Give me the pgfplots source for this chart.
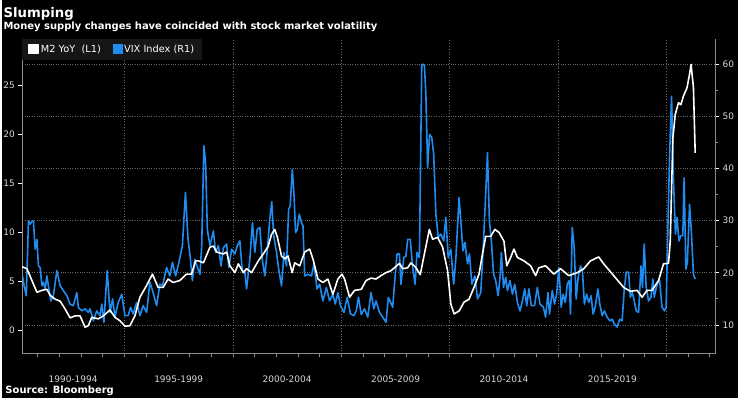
\documentclass[border=0pt]{standalone}
\usepackage{fontspec}
\setmainfont{DejaVu Sans}
\usepackage{pgfplots}
\pgfplotsset{compat=1.18}
\definecolor{vixblue}{RGB}{30,140,240}
\definecolor{axgray}{RGB}{140,140,140}
\definecolor{gridgray}{RGB}{105,105,105}
\definecolor{lblgray}{RGB}{215,215,215}
\definecolor{legbg}{RGB}{22,22,22}
\begin{document}
\begin{tikzpicture}
\fill[black] (0pt,0pt) rectangle (738pt,399pt);
\node[anchor=base west, text=white, inner sep=0, font=\bfseries\fontsize{13.3}{15}\selectfont] at (1pt,381.5pt) {Slumping};
\node[anchor=base west, text=white, inner sep=0, font=\bfseries\fontsize{10}{12}\selectfont] at (1pt,369pt) {Money supply changes have coincided with stock market volatility};
\node[anchor=base west, text=white, inner sep=0, font=\bfseries\fontsize{10}{12}\selectfont] at (3pt,4pt) {Source: Bloomberg};
% ---------- right axis: VIX ----------
\begin{axis}[
  at={(20pt,44pt)}, anchor=south west, scale only axis,
  width=695pt, height=316pt,
  xmin=1990.283, xmax=2022.237, ymin=4.46, ymax=64.8,
  axis x line*=bottom, axis y line*=right,
  axis line style={axgray,-,line width=0.8pt},
  /pgf/number format/assume math mode=true,
  xtick={1992.63,1997.5,2002.5,2007.5,2012.5,2017.5},
  xticklabels={1990-1994,1995-1999,2000-2004,2005-2009,2010-2014,2015-2019},
  every major x tick/.append style={draw=none},
  minor xtick={1991,1992,...,2022},
  every minor x tick/.append style={axgray, line width=0.8pt},
  xticklabel style={text=lblgray, font=\fontsize{9}{10}\selectfont, yshift=-14pt},
  ytick={10,20,...,60},
  minor ytick={15,25,...,55},
  every major y tick/.append style={white, line width=0.8pt},
  every minor y tick/.append style={axgray, line width=0.8pt},
  tick align=outside, major tick length=4pt, minor tick length=3pt,
  yticklabel style={text=lblgray, font=\fontsize{9}{10}\selectfont},
  ymajorgrids, major grid style={gridgray, dotted, line width=0.8pt},
  clip=true,
]
\pgfplotsinvokeforeach{1995,2000,2005,2010,2015,2020}{
  \draw[gridgray, dotted, line width=0.8pt] (axis cs:#1,4.46) -- (axis cs:#1,64.8);
  \draw[axgray, line width=0.8pt] (axis cs:#1,4.46) -- ++(0pt,-28pt);
}
\addplot[vixblue, line width=1.6pt, line join=round] table {
1990.28 19.7
1990.37 17.5
1990.47 15.6
1990.57 29.9
1990.65 29.3
1990.73 29.9
1990.80 29.9
1990.88 24.5
1990.96 26.4
1991.03 21.3
1991.11 21.0
1991.19 17.5
1991.26 18.2
1991.34 16.9
1991.42 19.4
1991.49 17.5
1991.60 14.6
1991.72 15.6
1991.88 20.4
1992.03 17.5
1992.18 16.6
1992.34 15.6
1992.49 14.0
1992.64 13.7
1992.80 16.2
1992.87 13.4
1993.03 12.7
1993.18 13.1
1993.33 12.4
1993.41 13.1
1993.56 10.8
1993.72 12.7
1993.87 11.8
1993.95 14.0
1994.05 10.5
1994.20 20.4
1994.33 12.4
1994.45 15.0
1994.56 11.5
1994.71 14.3
1994.87 15.9
1995.02 11.8
1995.17 11.8
1995.28 13.4
1995.40 12.1
1995.56 14.3
1995.71 11.8
1995.86 13.7
1996.02 12.4
1996.17 18.2
1996.32 16.2
1996.48 13.7
1996.63 17.8
1996.75 17.5
1996.94 21.0
1997.09 19.4
1997.21 22.0
1997.36 19.4
1997.51 22.0
1997.67 25.2
1997.81 35.4
1997.93 26.4
1998.04 22.6
1998.13 18.5
1998.24 22.6
1998.34 21.3
1998.48 19.7
1998.56 25.2
1998.66 44.3
1998.74 41.1
1998.82 28.3
1998.94 25.2
1999.10 28.0
1999.20 23.9
1999.33 25.2
1999.45 21.3
1999.56 24.8
1999.71 25.5
1999.81 21.0
1999.94 24.5
2000.09 23.6
2000.20 25.2
2000.32 26.1
2000.43 20.4
2000.55 20.1
2000.63 16.9
2000.78 22.6
2000.90 29.6
2001.01 23.9
2001.12 28.3
2001.24 28.7
2001.35 22.6
2001.47 19.4
2001.59 24.5
2001.70 30.3
2001.79 33.6
2001.88 27.1
2002.01 23.9
2002.11 20.7
2002.24 17.5
2002.36 23.9
2002.47 21.3
2002.57 32.2
2002.64 32.8
2002.74 39.8
2002.82 34.7
2002.89 27.7
2002.97 28.3
2003.06 31.2
2003.16 29.6
2003.23 29.0
2003.31 19.4
2003.46 19.7
2003.62 19.4
2003.74 21.7
2003.88 16.9
2004.00 17.8
2004.15 14.6
2004.31 17.2
2004.46 14.6
2004.61 15.9
2004.72 14.0
2004.84 16.2
2004.96 13.7
2005.12 12.4
2005.27 15.3
2005.42 12.1
2005.58 11.8
2005.69 12.7
2005.79 15.3
2005.92 12.0
2006.07 13.1
2006.22 11.5
2006.37 16.2
2006.50 13.1
2006.60 14.6
2006.76 12.4
2006.91 11.5
2007.06 10.5
2007.17 15.3
2007.37 13.4
2007.45 17.8
2007.57 23.6
2007.68 23.6
2007.75 17.8
2007.88 22.9
2007.98 23.2
2008.06 26.4
2008.18 26.4
2008.29 21.0
2008.40 17.8
2008.49 23.9
2008.60 22.9
2008.71 59.9
2008.83 59.9
2008.90 54.1
2008.98 40.1
2009.07 46.5
2009.17 45.9
2009.26 42.7
2009.36 31.2
2009.47 26.8
2009.59 27.4
2009.72 26.1
2009.82 30.6
2009.93 22.9
2010.05 24.5
2010.18 17.8
2010.28 22.6
2010.43 34.4
2010.51 29.9
2010.61 24.2
2010.70 25.8
2010.82 21.7
2010.91 23.6
2011.02 17.8
2011.16 19.4
2011.28 15.0
2011.43 16.2
2011.56 26.1
2011.65 34.4
2011.74 43.0
2011.83 29.9
2011.92 26.1
2012.02 19.7
2012.12 18.5
2012.23 15.6
2012.32 19.1
2012.38 23.9
2012.48 17.2
2012.58 19.1
2012.66 16.6
2012.78 18.5
2012.89 15.9
2013.00 17.8
2013.12 14.3
2013.24 12.7
2013.35 14.6
2013.46 16.9
2013.55 13.7
2013.65 16.9
2013.76 13.7
2013.91 13.7
2014.04 17.2
2014.16 14.0
2014.32 13.4
2014.42 11.5
2014.53 16.2
2014.60 12.1
2014.73 16.6
2014.83 14.0
2014.93 15.9
2015.03 21.0
2015.14 13.4
2015.23 15.9
2015.33 14.3
2015.42 17.8
2015.51 18.5
2015.57 12.1
2015.65 28.7
2015.74 24.8
2015.83 15.0
2015.92 19.1
2016.03 21.3
2016.12 20.4
2016.21 14.0
2016.31 15.9
2016.41 14.3
2016.52 15.6
2016.61 12.1
2016.72 13.7
2016.83 16.9
2016.92 14.0
2017.03 11.8
2017.13 12.7
2017.26 11.5
2017.38 10.8
2017.49 11.1
2017.59 10.2
2017.72 9.6
2017.84 11.1
2017.95 10.8
2018.05 16.9
2018.14 20.1
2018.25 20.1
2018.33 15.3
2018.42 16.2
2018.51 14.6
2018.60 12.7
2018.71 12.4
2018.82 21.3
2018.89 17.2
2018.97 25.5
2019.06 17.2
2019.17 14.6
2019.28 15.3
2019.37 18.8
2019.43 15.3
2019.56 17.8
2019.68 18.5
2019.79 13.4
2019.91 12.7
2019.98 13.4
2020.06 28.7
2020.14 42.7
2020.23 53.8
2020.32 37.6
2020.41 27.4
2020.48 30.6
2020.57 26.1
2020.66 27.1
2020.75 27.1
2020.81 38.2
2020.89 20.7
2020.96 22.0
2021.06 33.1
2021.15 27.4
2021.24 19.7
2021.32 18.8
};
\end{axis}
% ---------- left axis: M2 ----------
\begin{axis}[
  at={(20pt,44pt)}, anchor=south west, scale only axis,
  width=695pt, height=316pt,
  xmin=1990.283, xmax=2022.237, ymin=-2.37, ymax=29.7,
  axis x line=none, axis y line*=left,
  axis line style={axgray,-,line width=0.8pt},
  /pgf/number format/assume math mode=true,
  ytick={0,5,...,25},
  every major y tick/.append style={white, line width=0.8pt},
  tick align=outside, major tick length=4pt,
  yticklabel style={text=lblgray, font=\fontsize{9}{10}\selectfont},
  legend style={at={(0,1)}, anchor=north west, fill=legbg, draw=none,
    text=white, font=\fontsize{9.8}{11}\selectfont,
    inner xsep=6pt, inner ysep=4pt,
    /tikz/every even column/.append style={column sep=10pt}},
  legend columns=2, legend cell align=left,
]
\addplot[white, line width=1.6pt, line join=round,
  legend image code/.code={\fill[white] (0pt,-4pt) rectangle (9pt,5pt);}] table {
1990.28 6.5
1990.50 6.3
1990.73 5.1
1990.96 3.9
1991.19 4.1
1991.42 4.2
1991.57 3.6
1991.80 3.2
1992.03 3.0
1992.26 2.2
1992.49 1.3
1992.72 1.5
1992.95 1.5
1993.18 0.35
1993.33 0.5
1993.49 1.35
1993.79 1.2
1994.02 1.5
1994.33 2.1
1994.56 1.35
1994.79 1.0
1995.02 0.45
1995.25 0.5
1995.48 1.5
1995.71 3.4
1996.02 4.6
1996.29 5.75
1996.55 4.4
1996.78 4.4
1997.01 5.25
1997.24 4.9
1997.55 5.1
1997.86 5.75
1998.09 5.75
1998.28 7.1
1998.41 7.1
1998.64 6.9
1998.94 8.5
1999.10 8.6
1999.25 8.0
1999.56 7.8
1999.71 8.0
1999.86 6.6
2000.09 5.9
2000.25 6.8
2000.48 5.9
2000.63 6.3
2000.86 5.9
2001.17 7.1
2001.40 7.8
2001.63 8.6
2001.78 9.8
2001.93 10.3
2002.05 9.5
2002.24 7.6
2002.39 7.3
2002.54 7.6
2002.73 5.9
2002.85 6.9
2003.08 6.6
2003.31 8.0
2003.54 8.3
2003.69 7.3
2003.92 5.25
2004.15 4.9
2004.38 5.25
2004.61 3.7
2004.84 5.25
2005.03 5.75
2005.15 5.25
2005.38 3.4
2005.61 4.1
2005.92 4.2
2006.14 5.1
2006.37 5.35
2006.60 5.25
2006.83 5.6
2007.06 5.9
2007.29 6.1
2007.45 6.4
2007.68 6.85
2007.83 6.3
2008.06 6.4
2008.21 6.9
2008.44 6.4
2008.64 5.7
2008.83 7.8
2009.06 10.3
2009.21 9.3
2009.44 9.5
2009.67 8.5
2009.90 6.1
2010.05 2.7
2010.20 1.7
2010.43 2.0
2010.66 2.9
2010.89 3.2
2011.12 4.4
2011.35 5.75
2011.51 7.8
2011.66 9.6
2011.89 9.6
2012.08 10.3
2012.27 10.0
2012.50 9.1
2012.63 6.6
2012.81 7.45
2012.96 8.3
2013.12 7.45
2013.42 7.1
2013.73 6.6
2013.96 5.6
2014.11 6.4
2014.42 6.6
2014.80 5.75
2015.11 6.3
2015.49 5.6
2015.88 5.9
2016.18 6.3
2016.49 7.1
2016.87 7.5
2017.10 6.8
2017.56 5.6
2018.02 4.4
2018.33 4.0
2018.64 4.1
2018.87 3.4
2019.10 4.1
2019.33 4.1
2019.63 5.1
2019.86 6.8
2020.09 6.85
2020.17 9.1
2020.29 19.6
2020.40 22.0
2020.55 23.2
2020.66 23.0
2020.78 23.9
2020.94 24.7
2021.06 26.1
2021.13 27.1
2021.24 24.7
2021.32 18.1
};
\addlegendentry{M2 YoY\ \ (L1)}
\addlegendimage{legend image code/.code={\fill[vixblue] (0pt,-4pt) rectangle (9pt,5pt);}}
\addlegendentry{VIX Index (R1)}
\end{axis}
\end{tikzpicture}
\end{document}
